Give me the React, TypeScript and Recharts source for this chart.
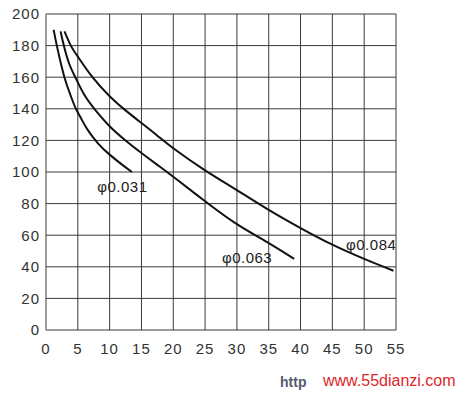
import React from "react";
import { LineChart, Line, XAxis, YAxis, CartesianGrid, ReferenceDot } from "recharts";

// curve points: x (horizontal axis), y (vertical axis)
const curve031 = [
  { x: 1.2, y: 190 },
  { x: 1.7, y: 180 },
  { x: 2.5, y: 166 },
  { x: 3.2, y: 156 },
  { x: 4, y: 147 },
  { x: 4.7, y: 140 },
  { x: 5.5, y: 134 },
  { x: 6.5, y: 127 },
  { x: 8.2, y: 118 },
  { x: 10, y: 111 },
  { x: 12, y: 104.5 },
  { x: 13.5, y: 100 },
];

const curve063 = [
  { x: 2.3, y: 189 },
  { x: 2.8, y: 180 },
  { x: 3.6, y: 169 },
  { x: 4.6, y: 160 },
  { x: 6, y: 149 },
  { x: 7.6, y: 140 },
  { x: 10, y: 129 },
  { x: 12.5, y: 120 },
  { x: 15, y: 112 },
  { x: 17.5, y: 104.5 },
  { x: 20, y: 97 },
  { x: 25, y: 81.5 },
  { x: 30, y: 67 },
  { x: 35, y: 55 },
  { x: 39, y: 45 },
];

const curve084 = [
  { x: 2.9, y: 189 },
  { x: 3.9, y: 180 },
  { x: 5, y: 173 },
  { x: 7.3, y: 160 },
  { x: 10, y: 148 },
  { x: 12.5, y: 139 },
  { x: 15, y: 131 },
  { x: 17.5, y: 123 },
  { x: 20, y: 115 },
  { x: 25, y: 101 },
  { x: 30, y: 88.5 },
  { x: 35, y: 76 },
  { x: 40, y: 64.5 },
  { x: 45, y: 54 },
  { x: 50, y: 45 },
  { x: 54.6, y: 37.5 },
];

const xTicks = [0, 5, 10, 15, 20, 25, 30, 35, 40, 45, 50, 55];
const yTicks = [0, 20, 40, 60, 80, 100, 120, 140, 160, 180, 200];

const curveLabels = [
  { x: 12, y: 91, text: "φ0.031" },
  { x: 31.6, y: 45.5, text: "φ0.063" },
  { x: 51.1, y: 54, text: "φ0.084" },
];

const font = "Liberation Sans, Arial, sans-serif";
const tickStyle = { fill: "#333", fontSize: 15, fontFamily: font, letterSpacing: 1 };

export default function App() {
  return (
    <div style={{ position: "absolute", left: 0, top: 0, width: 459, height: 393, background: "#fff", overflow: "hidden" }}>
      <LineChart width={459} height={393} margin={{ top: 14, right: 63, bottom: 33, left: 0 }}>
        <CartesianGrid stroke="#3a3a3a" strokeWidth={1} horizontalValues={yTicks} verticalValues={xTicks} />
        <XAxis
          type="number"
          dataKey="x"
          domain={[0, 55]}
          ticks={xTicks}
          height={30}
          axisLine={false}
          tickLine={false}
          tickMargin={7}
          tick={tickStyle}
          allowDataOverflow
        />
        <YAxis
          type="number"
          dataKey="y"
          domain={[0, 200]}
          ticks={yTicks}
          width={46}
          axisLine={false}
          tickLine={false}
          tickMargin={0}
          tick={tickStyle}
        />
        <Line data={curve031} dataKey="y" type="natural" stroke="#111" strokeWidth={2} dot={false} isAnimationActive={false} />
        <Line data={curve063} dataKey="y" type="natural" stroke="#111" strokeWidth={2} dot={false} isAnimationActive={false} />
        <Line data={curve084} dataKey="y" type="natural" stroke="#111" strokeWidth={2} dot={false} isAnimationActive={false} />
        {curveLabels.map((l) => (
          <ReferenceDot
            key={l.text}
            x={l.x}
            y={l.y}
            r={0}
            ifOverflow="visible"
            label={{ value: l.text, position: "center", fill: "#222", fontSize: 15, fontFamily: font, letterSpacing: 0.5 }}
          />
        ))}
      </LineChart>
      <div style={{ position: "absolute", left: 280, top: 374, fontFamily: font, fontWeight: "bold", fontSize: 14, color: "#555b6e" }}>
        http
      </div>
      <div style={{ position: "absolute", left: 323, top: 372, fontFamily: font, fontSize: 16, color: "#e0262b", whiteSpace: "nowrap" }}>
        www.55dianzi.com
      </div>
    </div>
  );
}
